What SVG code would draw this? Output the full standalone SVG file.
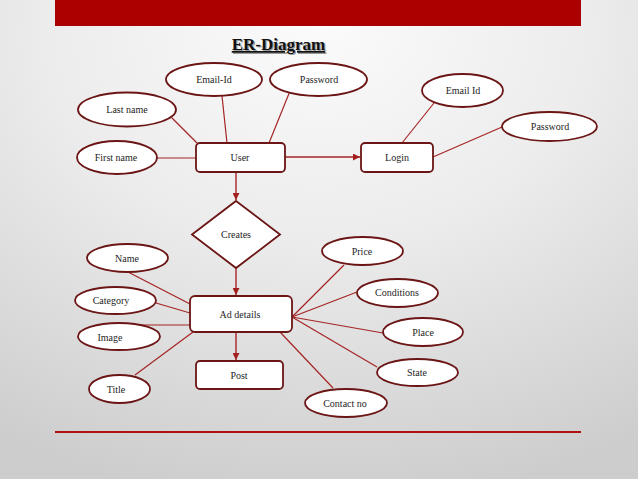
<svg xmlns="http://www.w3.org/2000/svg" width="638" height="479" viewBox="0 0 638 479">
<defs>
<radialGradient id="bg" cx="0.5" cy="0.1" r="0.95" fx="0.5" fy="0.05">
<stop offset="0" stop-color="#fbfbfb"/>
<stop offset="0.45" stop-color="#ececec"/>
<stop offset="1" stop-color="#cdcdcd"/>
</radialGradient>
<marker id="arr" viewBox="0 0 8 8" refX="8" refY="4" markerWidth="7" markerHeight="7" markerUnits="userSpaceOnUse" orient="auto">
<path d="M0,0 L8,4 L0,8 z" fill="#a31f1f"/>
</marker>
</defs>
<style>
.ell{fill:#ffffff;stroke:#6b1515;stroke-width:1.8}
.box{fill:#ffffff;stroke:#6b1515;stroke-width:1.8}
.ln{stroke:#a52525;stroke-width:1.2;fill:none}
.ar{stroke:#a52525;stroke-width:1.4;fill:none;marker-end:url(#arr)}
text{font-family:"Liberation Serif","Times New Roman",serif;font-size:10px;fill:#1e1e1e;text-anchor:middle;dominant-baseline:central}
.title{font-size:17px;font-weight:bold;text-decoration:underline;fill:#111;dominant-baseline:auto}
</style>
<rect width="638" height="479" fill="url(#bg)"/>
<rect x="55" y="0" width="526" height="26" fill="#aa0000"/>
<line x1="55" y1="432" x2="581" y2="432" stroke="#b01010" stroke-width="2.2"/>
<text class="title" x="279.8" y="51.3" fill="#888" style="fill:#9a9a9a">ER-Diagram</text>
<text class="title" x="278.5" y="50">ER-Diagram</text>

<g id="connectors">
<line class="ln" x1="172" y1="118" x2="197" y2="143"/>
<line class="ln" x1="222" y1="96" x2="227" y2="143"/>
<line class="ln" x1="290" y1="91" x2="269" y2="143"/>
<line class="ln" x1="157" y1="158" x2="196" y2="158"/>
<line class="ar" x1="285" y1="157" x2="360" y2="157"/>
<line class="ln" x1="402" y1="143" x2="434" y2="103"/>
<line class="ln" x1="433" y1="157" x2="502" y2="127"/>
<line class="ar" x1="236" y1="172" x2="236" y2="200"/>
<line class="ar" x1="236" y1="268" x2="236" y2="295"/>
<line class="ar" x1="236" y1="332" x2="236" y2="360"/>
<line class="ln" x1="128" y1="272" x2="190" y2="304"/>
<line class="ln" x1="156" y1="303" x2="190" y2="313"/>
<line class="ln" x1="140" y1="325" x2="190" y2="325"/>
<line class="ln" x1="135" y1="375" x2="193" y2="332"/>
<line class="ln" x1="292" y1="317" x2="344" y2="265"/>
<line class="ln" x1="292" y1="317" x2="357" y2="292"/>
<line class="ln" x1="292" y1="317" x2="383" y2="333"/>
<line class="ln" x1="292" y1="317" x2="377" y2="367"/>
<line class="ln" x1="280" y1="332" x2="333" y2="388"/>
</g>

<g id="email-id"><ellipse class="ell" cx="214" cy="79.5" rx="48" ry="16.5"/><text x="214" y="79">Email-Id</text></g>
<g id="password-user"><ellipse class="ell" cx="318.5" cy="79.5" rx="48.5" ry="16.5"/><text x="319" y="79">Password</text></g>
<g id="last-name"><ellipse class="ell" cx="127" cy="109.5" rx="49" ry="17"/><text x="127" y="109">Last name</text></g>
<g id="first-name"><ellipse class="ell" cx="117" cy="157.5" rx="40" ry="16.5"/><text x="116" y="157">First name</text></g>
<g id="user"><rect class="box" x="196" y="143" width="89" height="29" rx="4"/><text x="240" y="157">User</text></g>
<g id="login"><rect class="box" x="361" y="143" width="72" height="29" rx="4"/><text x="397" y="157">Login</text></g>
<g id="email-id-login"><ellipse class="ell" cx="462.5" cy="90.5" rx="40.5" ry="16.5"/><text x="463" y="90">Email Id</text></g>
<g id="password-login"><ellipse class="ell" cx="549.5" cy="126.5" rx="47.5" ry="14.5"/><text x="550" y="126">Password</text></g>
<g id="creates"><polygon class="box" points="236,201 280,234.5 236,268 192,234.5"/><text x="236" y="234">Creates</text></g>
<g id="ad-details"><rect class="box" x="190" y="296" width="102" height="36" rx="5"/><text x="240" y="314">Ad details</text></g>
<g id="post"><rect class="box" x="196" y="361" width="87" height="28" rx="4"/><text x="239" y="375">Post</text></g>
<g id="name"><ellipse class="ell" cx="127.5" cy="258" rx="40.5" ry="14"/><text x="127" y="258">Name</text></g>
<g id="category"><ellipse class="ell" cx="115.5" cy="300.5" rx="40.5" ry="13.5"/><text x="111" y="300">Category</text></g>
<g id="image"><ellipse class="ell" cx="119" cy="336.5" rx="41" ry="13.5"/><text x="110" y="337">Image</text></g>
<g id="title"><ellipse class="ell" cx="119.5" cy="389" rx="30.5" ry="14"/><text x="116" y="389">Title</text></g>
<g id="price"><ellipse class="ell" cx="362.5" cy="251" rx="40.5" ry="14"/><text x="362" y="251">Price</text></g>
<g id="conditions"><ellipse class="ell" cx="397.5" cy="293" rx="40.5" ry="14"/><text x="397" y="292">Conditions</text></g>
<g id="place"><ellipse class="ell" cx="423" cy="332" rx="40" ry="14"/><text x="423" y="332">Place</text></g>
<g id="state"><ellipse class="ell" cx="417.5" cy="372.5" rx="40.5" ry="13.5"/><text x="417" y="372">State</text></g>
<g id="contact-no"><ellipse class="ell" cx="346" cy="403" rx="41" ry="14"/><text x="345" y="403">Contact no</text></g>
</svg>
